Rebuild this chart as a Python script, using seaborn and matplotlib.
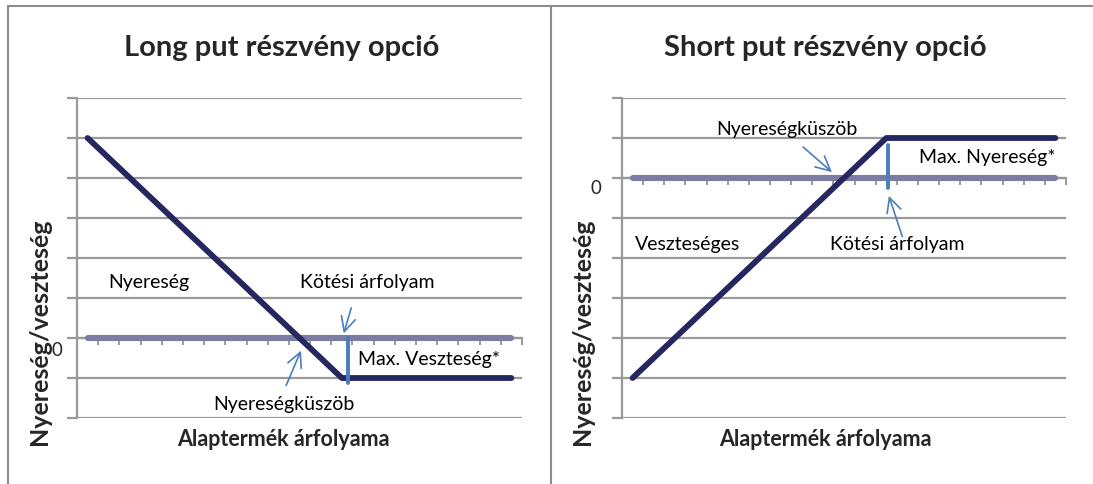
import numpy as np
import pandas as pd
import matplotlib.pyplot as plt
from matplotlib.lines import Line2D
import seaborn as sns

# ---- data (21 price categories) ----
price = list(range(21))
long_put = [5, 4.5, 4, 3.5, 3, 2.5, 2, 1.5, 1, 0.5, 0, -0.5, -1,
            -1, -1, -1, -1, -1, -1, -1, -1]
short_put = [-5, -4.5, -4, -3.5, -3, -2.5, -2, -1.5, -1, -0.5, 0, 0.5, 1,
             1, 1, 1, 1, 1, 1, 1, 1]
zero_line = [0] * 21

titles = ["Long put részvény opció", "Short put részvény opció"]
x_label = "Alaptermék árfolyama"
y_label = "Nyereség/veszteség"

sns.set_style("white")
plt.rcParams['font.family'] = ['Lato', 'DejaVu Sans']

W, H = 1093, 484
fig = plt.figure(figsize=(W / 100, H / 100), dpi=100)

GRID = "#9a9a9a"
NAVY = "#262660"
ZERO = "#7b7ba3"
BLUE = "#4a7ebb"


def px_rect(x0, y0, x1, y1):
    return [x0 / W, 1 - y1 / H, (x1 - x0) / W, (y1 - y0) / H]


def setup(ax, ylim):
    ax.set_xlim(-0.5, 20.5)
    ax.set_ylim(*ylim)
    ax.set_yticks(np.arange(ylim[0], ylim[1] + 1, 1))
    ax.set_yticklabels([])
    ax.yaxis.grid(True, color=GRID, linewidth=1.6)
    ax.xaxis.grid(False)
    ax.set_xticks(np.arange(0.5, 21, 1))
    ax.set_xticklabels([])
    for s in ["top", "right"]:
        ax.spines[s].set_visible(False)
    ax.spines["left"].set_color(GRID)
    ax.spines["left"].set_linewidth(1.6)
    ax.spines["bottom"].set_position(("data", 0))
    ax.spines["bottom"].set_color(GRID)
    ax.spines["bottom"].set_linewidth(1.6)
    ax.tick_params(axis="y", direction="out", length=7, width=1.6, color=GRID, left=True)
    ax.tick_params(axis="x", direction="out", length=5, width=1.4, color=GRID, bottom=True)
    ax.set_xlabel("")
    ax.set_ylabel("")


arrow = dict(arrowstyle="->", color=BLUE, lw=1.2, mutation_scale=26)
txt = dict(fontsize=14, ha="center", va="center", color="black")

# ---- left chart ----
ax1 = fig.add_axes(px_rect(77, 98, 522, 418))
sns.lineplot(x=price, y=zero_line, ax=ax1, color=ZERO, linewidth=4.4,
             solid_capstyle="round", zorder=3)
sns.lineplot(x=price, y=long_put, ax=ax1, color=NAVY, linewidth=4.2,
             solid_capstyle="round", zorder=4)
setup(ax1, (-2, 6))
ax1.plot([12.29, 12.29], [0, -1.12], color=BLUE, linewidth=2.8, zorder=5)
ax1.text(2.9, 1.38, "Nyereség", **txt)
ax1.text(13.2, 1.38, "Kötési árfolyam", **txt)
ax1.annotate("", xy=(12.05, 0.05), xytext=(12.48, 0.82), arrowprops=arrow)
ax1.text(16.1, -0.55, "Max. Veszteség*", **txt)
ax1.text(9.27, -1.67, "Nyereségküszöb", **txt)
ax1.annotate("", xy=(10.12, -0.25), xytext=(9.32, -1.25), arrowprops=arrow)

# ---- right chart ----
ax2 = fig.add_axes(px_rect(622, 98, 1066, 418))
sns.lineplot(x=price, y=zero_line, ax=ax2, color=ZERO, linewidth=4.4,
             solid_capstyle="round", zorder=3)
sns.lineplot(x=price, y=short_put, ax=ax2, color=NAVY, linewidth=4.2,
             solid_capstyle="round", zorder=4)
setup(ax2, (-6, 2))
ax2.plot([12.08, 12.08], [0.82, -0.25], color=BLUE, linewidth=2.8, zorder=5)
ax2.text(7.3, 1.2, "Nyereségküszöb", **txt)
ax2.annotate("", xy=(9.53, 0.1), xytext=(7.97, 0.82), arrowprops=arrow)
ax2.text(16.8, 0.5, "Max. Nyereség*", **txt)
ax2.annotate("", xy=(12.08, -0.38), xytext=(12.8, -1.53), arrowprops=arrow)
ax2.text(12.5, -1.67, "Kötési árfolyam", **txt)
ax2.text(2.6, -1.67, "Veszteséges", **txt)

# ---- titles, axis labels, "0" labels ----
for cx, t in zip([282, 825], titles):
    fig.text(cx / W, 1 - 48 / H, t, fontsize=21, fontweight="bold", ha="center", va="center")
for cx in [283, 825]:
    fig.text(cx / W, 1 - 440 / H, x_label, fontsize=15.5, fontweight="bold", ha="center", va="center")
for cx in [40, 582]:
    fig.text(cx / W, 1 - 332 / H, y_label, fontsize=18, fontweight="bold",
             ha="center", va="center", rotation=90)
fig.text(57 / W, 1 - 350 / H, "0", fontsize=13.5, ha="center", va="center")
fig.text(596 / W, 1 - 188 / H, "0", fontsize=13.5, ha="center", va="center")

# ---- table frame ----
fc = "#8c8c8c"
fig.add_artist(Line2D([8 / W, 1], [1 - 6 / H, 1 - 6 / H], color=fc, linewidth=1.5))
fig.add_artist(Line2D([8 / W, 8 / W], [0, 1 - 6 / H], color=fc, linewidth=1.5))
fig.add_artist(Line2D([551 / W, 551 / W], [0, 1 - 6 / H], color=fc, linewidth=1.5))

fig.savefig("out.png", dpi=100)
